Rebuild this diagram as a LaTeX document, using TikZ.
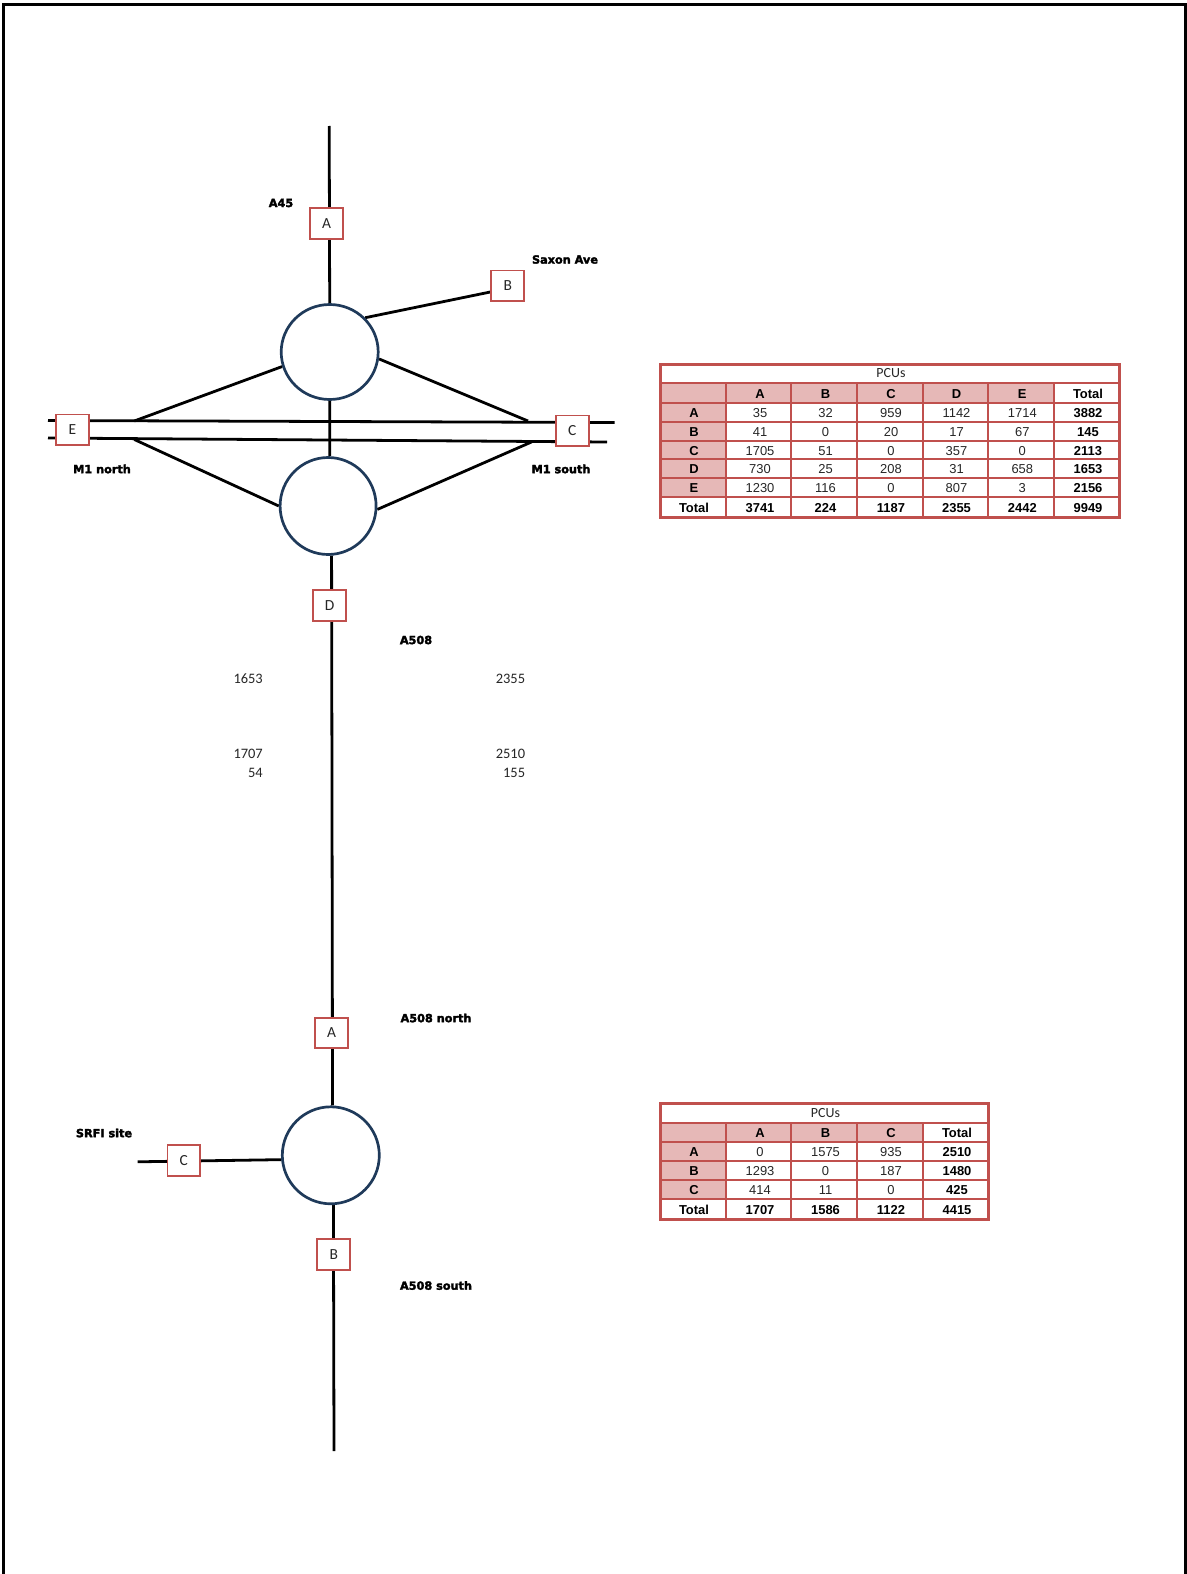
\documentclass[tikz,border=0pt]{standalone}
\usepackage{fontspec}
\setmainfont{Carlito}
\newfontfamily\tabfont{Liberation Sans}
\newfontfamily\labfont[BoldFont={DejaVu Sans Bold},BoldFeatures={FakeBold=2.6}]{DejaVu Sans}
\usetikzlibrary{shapes.geometric,backgrounds}
\definecolor{redline}{HTML}{C0504D}
\definecolor{pinkfill}{HTML}{E6B8B7}
\definecolor{navyline}{HTML}{1F3A5A}
\tikzset{
  road/.style={draw=black,line width=2.8pt},
  rbt/.style={draw=navyline,line width=2.7pt,fill=white,ellipse,inner sep=0pt},
  tag/.style={draw=redline,line width=1.7pt,fill=white,minimum width=33pt,minimum height=30.5bp,inner sep=0pt,font=\fontsize{15.5}{15}\selectfont,text=black!85},
  place/.style={font=\labfont\bfseries\fontsize{11.3}{12}\selectfont,inner sep=0pt},
  count/.style={font=\fontsize{14.5}{16}\selectfont,anchor=east,inner sep=0pt,text=black!85},
  gridline/.style={draw=redline,line width=2pt},
  outerline/.style={draw=redline,line width=3pt},
  cellnum/.style={font=\tabfont\fontsize{13}{14}\selectfont,inner sep=0pt,text=black!85,text height=9.5bp,text depth=0bp},
  cellbold/.style={font=\tabfont\bfseries\fontsize{13}{14}\selectfont,inner sep=0pt,text height=9.5bp,text depth=0bp},
  captext/.style={font=\fontsize{14}{14}\selectfont,inner sep=0pt,text=black!85},
}
\begin{document}
\begin{tikzpicture}[x=1bp,y=-1bp]
\useasboundingbox (0,0) rectangle (1186,1574);
% page frame
\draw[line width=3pt] (3.5,1574) -- (3.5,4.3) -- (1185,4.3) -- (1185,1574);
% free road ends
\coordinate (topend) at (329.2,126);
\coordinate (m1aW) at (48,420.5);
\coordinate (m1aE) at (614.7,422.5);
\coordinate (m1bW) at (48,438);
\coordinate (m1bE) at (607,442);
\coordinate (jnNW) at (134.3,421);
\coordinate (jnNE) at (528,421);
\coordinate (jnSW) at (134.3,439.5);
\coordinate (jnSE) at (531.5,442);
\coordinate (srfi) at (137.7,1161.8);
\coordinate (botend) at (334,1451);
\coordinate (bBin) at (500,290);
% roundabouts
\node[rbt,minimum width=97bp,minimum height=95bp] (r1) at (329.7,352) {};
\node[rbt,minimum width=96bp,minimum height=97bp] (r2) at (328.1,506) {};
\node[rbt,minimum width=97bp,minimum height=97bp] (r3) at (330.8,1155.3) {};
% boxes
\node[tag] (bA) at (326.5,223.5) {A};
\node[tag] (bB) at (507.7,285.8) {B};
\node[tag] (bE) at (72.5,429.8) {E};
\node[tag] (bC) at (572.3,430.8) {C};
\node[tag] (bD) at (329.5,605.5) {D};
\node[tag] (sA) at (331.5,1033) {A};
\node[tag] (sC) at (183.8,1160.5) {C};
\node[tag] (sB) at (333.7,1254.5) {B};
% roads, behind the boxes and roundabouts
\begin{pgfonlayer}{background}
\draw[road] (topend) -- (r1.north);
\draw[road] (r1.44) -- (bBin);
\draw[road] (m1aW) -- (m1aE);
\draw[road] (m1bW) -- (m1bE);
\draw[road] (r1.south) -- (r2.88);
\draw[road] (jnNW) -- (r1.197);
\draw[road] (r1.-8) -- (jnNE);
\draw[road] (jnSW) -- (r2.180);
\draw[road] (r2.-4) -- (jnSE);
\draw[road] (r2.-86) -- (r3.88);
\draw[road] (srfi) -- (r3.185);
\draw[road] (r3.-87) -- (botend);
\end{pgfonlayer}
% place names
\node[place] (l1) at (281,203) {A45};
\node[place] (l2) at (565,259.5) {Saxon Ave};
\node[place] (l3) at (102,469) {M1 north};
\node[place] (l4) at (561,469) {M1 south};
\node[place] (l5) at (416,640) {A508};
\node[place] (l6) at (436,1018) {A508 north};
\node[place] (l7) at (104,1133) {SRFI site};
\node[place] (l8) at (436,1285.5) {A508 south};
% counts
\node[count] (n1) at (263,678.7) {1653};
\node[count] (n2) at (263,753.6) {1707};
\node[count] (n3) at (263,772.7) {54};
\node[count] (n4) at (525.3,678.7) {2355};
\node[count] (n5) at (525.3,753.6) {2510};
\node[count] (n6) at (525.3,772.7) {155};
% table 1
\fill[pinkfill] (660,383.3) rectangle (1054,402.7);
\fill[pinkfill] (660,402.7) rectangle (726,497.3);
\foreach \x in {726,791.3,857,922.7,988,1054} \draw[gridline] (\x,383.3) -- (\x,517.7);
\foreach \y in {383.3,402.7,421.7,440.7,459.3,478.3,497.3} \draw[gridline] (660,\y) -- (1119.5,\y);
\draw[outerline] (660,364.3) rectangle (1119.5,517.7);
\node[captext] (t1cap) at (891,373.5) {PCUs};
\foreach \n/\x/\t in {1/760/A,2/825.5/B,3/891/C,4/956.5/D,5/1022.3/E,6/1088/Total}
  \node[cellbold] (ta-0-\n) at (\x,393.8) {\t};
\foreach \r/\y/\a/\b/\c/\d/\e/\f/\g in {
  1/413/35/32/959/1142/1714/3882/A,
  2/432/41/0/20/17/67/145/B,
  3/450.8/1705/51/0/357/0/2113/C,
  4/469/730/25/208/31/658/1653/D,
  5/487.8/1230/116/0/807/3/2156/E}{
  \node[cellbold] (ta-\r-0) at (694,\y) {\g};
  \foreach \n/\x/\t in {1/760/\a,2/825.5/\b,3/891/\c,4/956.5/\d,5/1022.3/\e}
    \node[cellnum] (ta-\r-\n) at (\x,\y) {\t};
  \node[cellbold] (ta-\r-6) at (1088,\y) {\f};
}
\foreach \n/\x/\t in {0/694/Total,1/760/3741,2/825.5/224,3/891/1187,4/956.5/2355,5/1022.3/2442,6/1088/9949}
  \node[cellbold] (ta-6-\n) at (\x,507.8) {\t};
% table 2
\fill[pinkfill] (660,1123) rectangle (922.7,1142);
\fill[pinkfill] (660,1142) rectangle (726,1199.3);
\foreach \x in {726,791.3,857,922.7} \draw[gridline] (\x,1123) -- (\x,1219);
\foreach \y in {1123,1142,1161,1180,1199.3} \draw[gridline] (660,\y) -- (988.5,\y);
\draw[outerline] (660,1103.3) rectangle (988.5,1219);
\node[captext] (t2cap) at (825.5,1113) {PCUs};
\foreach \n/\x/\t in {1/760/A,2/825.5/B,3/891/C,4/957/Total}
  \node[cellbold] (tb-0-\n) at (\x,1133) {\t};
\foreach \r/\y/\a/\b/\c/\f/\g in {
  1/1152/0/1575/935/2510/A,
  2/1171/1293/0/187/1480/B,
  3/1190/414/11/0/425/C}{
  \node[cellbold] (tb-\r-0) at (694,\y) {\g};
  \foreach \n/\x/\t in {1/760/\a,2/825.5/\b,3/891/\c}
    \node[cellnum] (tb-\r-\n) at (\x,\y) {\t};
  \node[cellbold] (tb-\r-4) at (957,\y) {\f};
}
\foreach \n/\x/\t in {0/694/Total,1/760/1707,2/825.5/1586,3/891/1122,4/957/4415}
  \node[cellbold] (tb-4-\n) at (\x,1209.8) {\t};
\end{tikzpicture}
\end{document}
